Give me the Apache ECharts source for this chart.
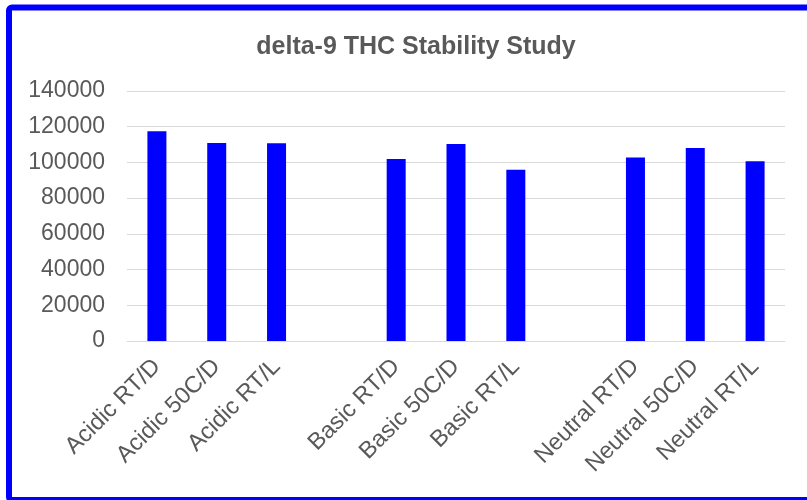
<!DOCTYPE html>
<html>
<head>
<meta charset="utf-8">
<script src="https://cdn.jsdelivr.net/npm/echarts@6/dist/echarts.min.js"></script>
<style>
  html, body { margin: 0; padding: 0; background: #ffffff; }
  #chart { width: 807px; height: 500px; }
</style>
</head>
<body>
<div id="chart"></div>
<script>
// Sample conditions (blank entries separate the Acidic / Basic / Neutral groups)
const categories = [
  'Acidic RT/D', 'Acidic 50C/D', 'Acidic RT/L', '',
  'Basic RT/D', 'Basic 50C/D', 'Basic RT/L', '',
  'Neutral RT/D', 'Neutral 50C/D', 'Neutral RT/L'
];
// delta-9 THC response per condition
const thcValues = [
  117400, 110900, 110700, null,
  101900, 110300, 95900, null,
  102800, 108100, 100600
];
const yTicks = { min: 0, max: 140000, interval: 20000 };

const labelColor = '#595959';
const fontFamily = '"Liberation Sans", Arial, sans-serif';

const chart = echarts.init(document.getElementById('chart'), null, { renderer: 'canvas' });
chart.setOption({
  backgroundColor: '#ffffff',
  animation: false,
  title: {
    text: 'delta-9 THC Stability Study',
    left: 411,
    textAlign: 'center',
    top: 30,
    textStyle: { color: labelColor, fontFamily, fontSize: 25, fontWeight: 'bold' }
  },
  grid: { left: 127, right: 22, top: 91, bottom: 159, containLabel: false },
  xAxis: {
    type: 'category',
    data: categories,
    axisLine: { show: true, lineStyle: { color: '#d9d9d9', width: 1 } },
    axisTick: { show: false },
    axisLabel: {
      interval: 0,
      rotate: 45,
      margin: 22,
      color: labelColor,
      fontFamily,
      fontSize: 23.5
    }
  },
  yAxis: {
    type: 'value',
    min: yTicks.min,
    max: yTicks.max,
    interval: yTicks.interval,
    axisLine: { show: false },
    axisTick: { show: false },
    splitLine: { lineStyle: { color: '#d9d9d9', width: 1 } },
    axisLabel: {
      color: labelColor,
      fontFamily,
      fontSize: 23,
      margin: 22,
      formatter: (v) => String(v)
    }
  },
  series: [{
    type: 'bar',
    data: thcValues,
    barWidth: 19,
    itemStyle: { color: '#0000ff' }
  }],
  graphic: [{
    type: 'rect',
    silent: true,
    z: 100,
    shape: { x: 9, y: 7.5, width: 810, height: 492.5, r: 3 },
    style: { fill: 'none', stroke: '#0000ff', lineWidth: 6 }
  }]
});
</script>
</body>
</html>
